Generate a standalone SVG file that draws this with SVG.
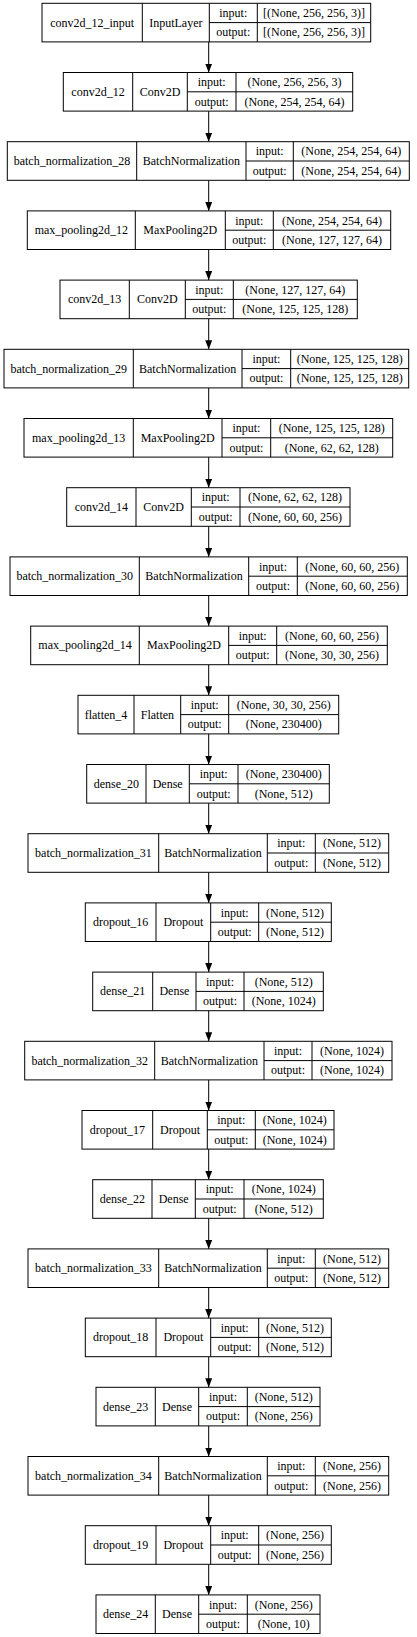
<svg xmlns="http://www.w3.org/2000/svg" width="417" height="1637" viewBox="0 0 417 1637">
<style>
rect{fill:#fff;stroke:#000;stroke-width:1}
.d{fill:none;stroke:#000;stroke-width:1}
text{font-family:"Liberation Serif","Times New Roman",serif;font-size:12px;fill:#000;text-anchor:middle}
.e{stroke:#000;stroke-width:1;fill:none}
</style>
<defs>
<marker id="ah" viewBox="0 -3.5 9 7" refX="9" refY="0" markerWidth="9" markerHeight="7" markerUnits="userSpaceOnUse" orient="auto">
<path d="M0,-3.5L9,0L0,3.5z" fill="#000"/>
</marker>
</defs>
<rect x="0" y="0" width="417" height="1637" style="stroke:none"/>
<g id="edges">
<line class="e" x1="208.7" y1="41.9" x2="208.7" y2="72.5" marker-end="url(#ah)"/>
<line class="e" x1="208.7" y1="111.1" x2="208.7" y2="141.7" marker-end="url(#ah)"/>
<line class="e" x1="208.7" y1="180.3" x2="208.7" y2="210.9" marker-end="url(#ah)"/>
<line class="e" x1="208.7" y1="249.5" x2="208.7" y2="280.1" marker-end="url(#ah)"/>
<line class="e" x1="208.7" y1="318.7" x2="208.7" y2="349.3" marker-end="url(#ah)"/>
<line class="e" x1="208.7" y1="387.9" x2="208.7" y2="418.5" marker-end="url(#ah)"/>
<line class="e" x1="208.7" y1="457.1" x2="208.7" y2="487.7" marker-end="url(#ah)"/>
<line class="e" x1="208.7" y1="526.3" x2="208.7" y2="556.9" marker-end="url(#ah)"/>
<line class="e" x1="208.7" y1="595.5" x2="208.7" y2="626.1" marker-end="url(#ah)"/>
<line class="e" x1="208.7" y1="664.7" x2="208.7" y2="695.3" marker-end="url(#ah)"/>
<line class="e" x1="208.7" y1="733.9" x2="208.7" y2="764.5" marker-end="url(#ah)"/>
<line class="e" x1="208.7" y1="803.1" x2="208.7" y2="833.7" marker-end="url(#ah)"/>
<line class="e" x1="208.7" y1="872.3" x2="208.7" y2="902.9" marker-end="url(#ah)"/>
<line class="e" x1="208.7" y1="941.5" x2="208.7" y2="972.1" marker-end="url(#ah)"/>
<line class="e" x1="208.7" y1="1010.7" x2="208.7" y2="1041.3" marker-end="url(#ah)"/>
<line class="e" x1="208.7" y1="1079.9" x2="208.7" y2="1110.5" marker-end="url(#ah)"/>
<line class="e" x1="208.7" y1="1149.1" x2="208.7" y2="1179.7" marker-end="url(#ah)"/>
<line class="e" x1="208.7" y1="1218.3" x2="208.7" y2="1248.9" marker-end="url(#ah)"/>
<line class="e" x1="208.7" y1="1287.5" x2="208.7" y2="1318.1" marker-end="url(#ah)"/>
<line class="e" x1="208.7" y1="1356.7" x2="208.7" y2="1387.3" marker-end="url(#ah)"/>
<line class="e" x1="208.7" y1="1425.9" x2="208.7" y2="1456.5" marker-end="url(#ah)"/>
<line class="e" x1="208.7" y1="1495.1" x2="208.7" y2="1525.7" marker-end="url(#ah)"/>
<line class="e" x1="208.7" y1="1564.3" x2="208.7" y2="1594.9" marker-end="url(#ah)"/>
</g>

<g id="n1" transform="translate(0,3.3)">
<rect x="42" y="0" width="328.7" height="38.6"/>
<path class="d" d="M142.3,0V38.6M209.3,0V38.6M257.3,0V38.6M209.3,19.3H370.7"/>
<text x="92.2" y="23.3">conv2d_12_input</text><text x="175.8" y="23.3">InputLayer</text>
<text x="233.3" y="13.7">input:</text><text x="233.3" y="33">output:</text>
<text x="314" y="13.7">[(None, 256, 256, 3)]</text><text x="314" y="33">[(None, 256, 256, 3)]</text>
</g>

<g id="n2" transform="translate(0,72.5)">
<rect x="63.3" y="0" width="289.4" height="38.6"/>
<path class="d" d="M132.7,0V38.6M187.3,0V38.6M236,0V38.6M187.3,19.3H352.7"/>
<text x="98" y="23.3">conv2d_12</text><text x="160" y="23.3">Conv2D</text>
<text x="211.7" y="13.7">input:</text><text x="211.7" y="33">output:</text>
<text x="294.4" y="13.7">(None, 256, 256, 3)</text><text x="294.4" y="33">(None, 254, 254, 64)</text>
</g>

<g id="n3" transform="translate(0,141.7)">
<rect x="7.3" y="0" width="402" height="38.6"/>
<path class="d" d="M136.7,0V38.6M246,0V38.6M293.3,0V38.6M246,19.3H409.3"/>
<text x="72" y="23.3">batch_normalization_28</text><text x="191.4" y="23.3">BatchNormalization</text>
<text x="269.7" y="13.7">input:</text><text x="269.7" y="33">output:</text>
<text x="351.3" y="13.7">(None, 254, 254, 64)</text><text x="351.3" y="33">(None, 254, 254, 64)</text>
</g>

<g id="n4" transform="translate(0,210.9)">
<rect x="27.3" y="0" width="363.4" height="38.6"/>
<path class="d" d="M135.3,0V38.6M225.3,0V38.6M273.3,0V38.6M225.3,19.3H390.7"/>
<text x="81.3" y="23.3">max_pooling2d_12</text><text x="180.3" y="23.3">MaxPooling2D</text>
<text x="249.3" y="13.7">input:</text><text x="249.3" y="33">output:</text>
<text x="332" y="13.7">(None, 254, 254, 64)</text><text x="332" y="33">(None, 127, 127, 64)</text>
</g>

<g id="n5" transform="translate(0,280.1)">
<rect x="60" y="0" width="297.3" height="38.6"/>
<path class="d" d="M129.3,0V38.6M185.3,0V38.6M233.3,0V38.6M185.3,19.3H357.3"/>
<text x="94.7" y="23.3">conv2d_13</text><text x="157.3" y="23.3">Conv2D</text>
<text x="209.3" y="13.7">input:</text><text x="209.3" y="33">output:</text>
<text x="295.3" y="13.7">(None, 127, 127, 64)</text><text x="295.3" y="33">(None, 125, 125, 128)</text>
</g>

<g id="n6" transform="translate(0,349.3)">
<rect x="4" y="0" width="404.7" height="38.6"/>
<path class="d" d="M133.3,0V38.6M242,0V38.6M290.7,0V38.6M242,19.3H408.7"/>
<text x="68.7" y="23.3">batch_normalization_29</text><text x="187.7" y="23.3">BatchNormalization</text>
<text x="266.4" y="13.7">input:</text><text x="266.4" y="33">output:</text>
<text x="349.7" y="13.7">(None, 125, 125, 128)</text><text x="349.7" y="33">(None, 125, 125, 128)</text>
</g>

<g id="n7" transform="translate(0,418.5)">
<rect x="24" y="0" width="368.7" height="38.6"/>
<path class="d" d="M133.3,0V38.6M222,0V38.6M270.7,0V38.6M222,19.3H392.7"/>
<text x="78.7" y="23.3">max_pooling2d_13</text><text x="177.7" y="23.3">MaxPooling2D</text>
<text x="246.4" y="13.7">input:</text><text x="246.4" y="33">output:</text>
<text x="331.7" y="13.7">(None, 125, 125, 128)</text><text x="331.7" y="33">(None, 62, 62, 128)</text>
</g>

<g id="n8" transform="translate(0,487.7)">
<rect x="66.7" y="0" width="283.3" height="38.6"/>
<path class="d" d="M136,0V38.6M191.3,0V38.6M240,0V38.6M191.3,19.3H350"/>
<text x="101.4" y="23.3">conv2d_14</text><text x="163.7" y="23.3">Conv2D</text>
<text x="215.7" y="13.7">input:</text><text x="215.7" y="33">output:</text>
<text x="295" y="13.7">(None, 62, 62, 128)</text><text x="295" y="33">(None, 60, 60, 256)</text>
</g>

<g id="n9" transform="translate(0,556.9)">
<rect x="10" y="0" width="397.3" height="38.6"/>
<path class="d" d="M139.3,0V38.6M248.7,0V38.6M297.3,0V38.6M248.7,19.3H407.3"/>
<text x="74.7" y="23.3">batch_normalization_30</text><text x="194" y="23.3">BatchNormalization</text>
<text x="273" y="13.7">input:</text><text x="273" y="33">output:</text>
<text x="352.3" y="13.7">(None, 60, 60, 256)</text><text x="352.3" y="33">(None, 60, 60, 256)</text>
</g>

<g id="n10" transform="translate(0,626.1)">
<rect x="30.7" y="0" width="356.6" height="38.6"/>
<path class="d" d="M139.3,0V38.6M228.7,0V38.6M276.7,0V38.6M228.7,19.3H387.3"/>
<text x="85" y="23.3">max_pooling2d_14</text><text x="184" y="23.3">MaxPooling2D</text>
<text x="252.7" y="13.7">input:</text><text x="252.7" y="33">output:</text>
<text x="332" y="13.7">(None, 60, 60, 256)</text><text x="332" y="33">(None, 30, 30, 256)</text>
</g>

<g id="n11" transform="translate(0,695.3)">
<rect x="78" y="0" width="260.7" height="38.6"/>
<path class="d" d="M134,0V38.6M180.7,0V38.6M228.7,0V38.6M180.7,19.3H338.7"/>
<text x="106" y="23.3">flatten_4</text><text x="157.4" y="23.3">Flatten</text>
<text x="204.7" y="13.7">input:</text><text x="204.7" y="33">output:</text>
<text x="283.7" y="13.7">(None, 30, 30, 256)</text><text x="283.7" y="33">(None, 230400)</text>
</g>

<g id="n12" transform="translate(0,764.5)">
<rect x="86.7" y="0" width="242.6" height="38.6"/>
<path class="d" d="M146,0V38.6M189.3,0V38.6M238,0V38.6M189.3,19.3H329.3"/>
<text x="116.4" y="23.3">dense_20</text><text x="167.7" y="23.3">Dense</text>
<text x="213.7" y="13.7">input:</text><text x="213.7" y="33">output:</text>
<text x="283.7" y="13.7">(None, 230400)</text><text x="283.7" y="33">(None, 512)</text>
</g>

<g id="n13" transform="translate(0,833.7)">
<rect x="28" y="0" width="360.7" height="38.6"/>
<path class="d" d="M158.7,0V38.6M267.3,0V38.6M315.3,0V38.6M267.3,19.3H388.7"/>
<text x="93.4" y="23.3">batch_normalization_31</text><text x="213" y="23.3">BatchNormalization</text>
<text x="291.3" y="13.7">input:</text><text x="291.3" y="33">output:</text>
<text x="352" y="13.7">(None, 512)</text><text x="352" y="33">(None, 512)</text>
</g>

<g id="n14" transform="translate(0,902.9)">
<rect x="85.3" y="0" width="246" height="38.6"/>
<path class="d" d="M156,0V38.6M210.7,0V38.6M258.7,0V38.6M210.7,19.3H331.3"/>
<text x="120.7" y="23.3">dropout_16</text><text x="183.4" y="23.3">Dropout</text>
<text x="234.7" y="13.7">input:</text><text x="234.7" y="33">output:</text>
<text x="295" y="13.7">(None, 512)</text><text x="295" y="33">(None, 512)</text>
</g>

<g id="n15" transform="translate(0,972.1)">
<rect x="92.7" y="0" width="230.6" height="38.6"/>
<path class="d" d="M152.7,0V38.6M196,0V38.6M244,0V38.6M196,19.3H323.3"/>
<text x="122.7" y="23.3">dense_21</text><text x="174.4" y="23.3">Dense</text>
<text x="220" y="13.7">input:</text><text x="220" y="33">output:</text>
<text x="283.7" y="13.7">(None, 512)</text><text x="283.7" y="33">(None, 1024)</text>
</g>

<g id="n16" transform="translate(0,1041.3)">
<rect x="24.7" y="0" width="367.3" height="38.6"/>
<path class="d" d="M154.7,0V38.6M264,0V38.6M312,0V38.6M264,19.3H392"/>
<text x="89.7" y="23.3">batch_normalization_32</text><text x="209.4" y="23.3">BatchNormalization</text>
<text x="288" y="13.7">input:</text><text x="288" y="33">output:</text>
<text x="352" y="13.7">(None, 1024)</text><text x="352" y="33">(None, 1024)</text>
</g>

<g id="n17" transform="translate(0,1110.5)">
<rect x="82" y="0" width="252" height="38.6"/>
<path class="d" d="M152.7,0V38.6M207.3,0V38.6M255.3,0V38.6M207.3,19.3H334"/>
<text x="117.4" y="23.3">dropout_17</text><text x="180" y="23.3">Dropout</text>
<text x="231.3" y="13.7">input:</text><text x="231.3" y="33">output:</text>
<text x="294.7" y="13.7">(None, 1024)</text><text x="294.7" y="33">(None, 1024)</text>
</g>

<g id="n18" transform="translate(0,1179.7)">
<rect x="92.7" y="0" width="230.6" height="38.6"/>
<path class="d" d="M152,0V38.6M195.3,0V38.6M244,0V38.6M195.3,19.3H323.3"/>
<text x="122.4" y="23.3">dense_22</text><text x="173.7" y="23.3">Dense</text>
<text x="219.7" y="13.7">input:</text><text x="219.7" y="33">output:</text>
<text x="283.7" y="13.7">(None, 1024)</text><text x="283.7" y="33">(None, 512)</text>
</g>

<g id="n19" transform="translate(0,1248.9)">
<rect x="28" y="0" width="360.7" height="38.6"/>
<path class="d" d="M158.7,0V38.6M267.3,0V38.6M315.3,0V38.6M267.3,19.3H388.7"/>
<text x="93.4" y="23.3">batch_normalization_33</text><text x="213" y="23.3">BatchNormalization</text>
<text x="291.3" y="13.7">input:</text><text x="291.3" y="33">output:</text>
<text x="352" y="13.7">(None, 512)</text><text x="352" y="33">(None, 512)</text>
</g>

<g id="n20" transform="translate(0,1318.1)">
<rect x="85.3" y="0" width="246" height="38.6"/>
<path class="d" d="M156,0V38.6M210.7,0V38.6M258.7,0V38.6M210.7,19.3H331.3"/>
<text x="120.7" y="23.3">dropout_18</text><text x="183.4" y="23.3">Dropout</text>
<text x="234.7" y="13.7">input:</text><text x="234.7" y="33">output:</text>
<text x="295" y="13.7">(None, 512)</text><text x="295" y="33">(None, 512)</text>
</g>

<g id="n21" transform="translate(0,1387.3)">
<rect x="96" y="0" width="224" height="38.6"/>
<path class="d" d="M155.3,0V38.6M198.7,0V38.6M247.3,0V38.6M198.7,19.3H320"/>
<text x="125.7" y="23.3">dense_23</text><text x="177" y="23.3">Dense</text>
<text x="223" y="13.7">input:</text><text x="223" y="33">output:</text>
<text x="283.7" y="13.7">(None, 512)</text><text x="283.7" y="33">(None, 256)</text>
</g>

<g id="n22" transform="translate(0,1456.5)">
<rect x="28" y="0" width="360.7" height="38.6"/>
<path class="d" d="M158.7,0V38.6M267.3,0V38.6M315.3,0V38.6M267.3,19.3H388.7"/>
<text x="93.4" y="23.3">batch_normalization_34</text><text x="213" y="23.3">BatchNormalization</text>
<text x="291.3" y="13.7">input:</text><text x="291.3" y="33">output:</text>
<text x="352" y="13.7">(None, 256)</text><text x="352" y="33">(None, 256)</text>
</g>

<g id="n23" transform="translate(0,1525.7)">
<rect x="85.3" y="0" width="246" height="38.6"/>
<path class="d" d="M156,0V38.6M210.7,0V38.6M258.7,0V38.6M210.7,19.3H331.3"/>
<text x="120.7" y="23.3">dropout_19</text><text x="183.4" y="23.3">Dropout</text>
<text x="234.7" y="13.7">input:</text><text x="234.7" y="33">output:</text>
<text x="295" y="13.7">(None, 256)</text><text x="295" y="33">(None, 256)</text>
</g>

<g id="n24" transform="translate(0,1594.9)">
<rect x="96" y="0" width="224" height="38.6"/>
<path class="d" d="M155.3,0V38.6M198.7,0V38.6M247.3,0V38.6M198.7,19.3H320"/>
<text x="125.7" y="23.3">dense_24</text><text x="177" y="23.3">Dense</text>
<text x="223" y="13.7">input:</text><text x="223" y="33">output:</text>
<text x="283.7" y="13.7">(None, 256)</text><text x="283.7" y="33">(None, 10)</text>
</g>
</svg>
